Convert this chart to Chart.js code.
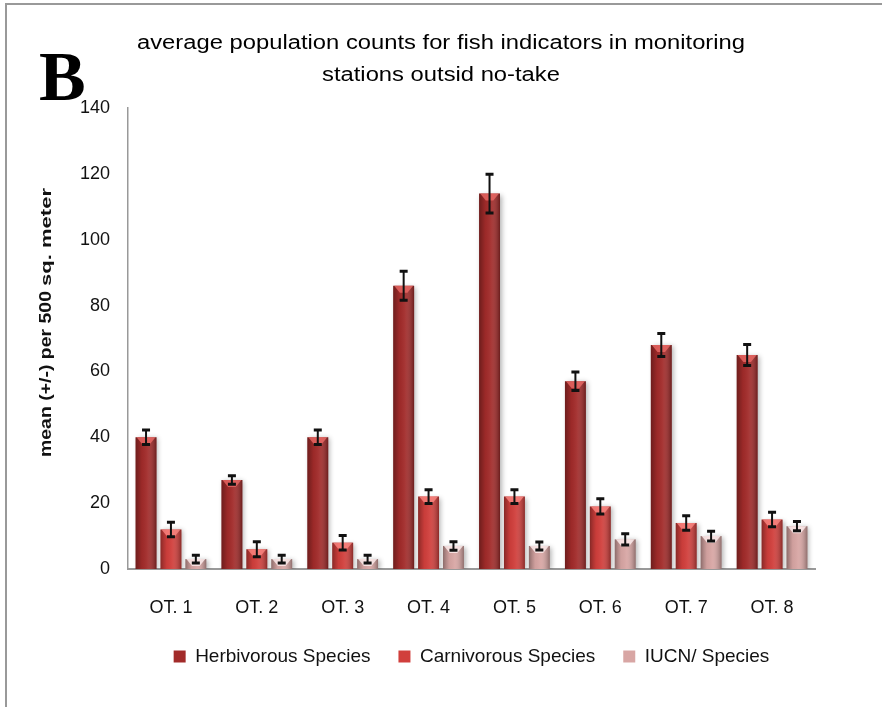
<!DOCTYPE html>
<html>
<head>
<meta charset="utf-8">
<script src="https://cdn.jsdelivr.net/npm/chart.js@4.4.1/dist/chart.umd.min.js"></script>
<style>
  html, body { margin: 0; padding: 0; background: #fff; }
  #wrap { position: relative; width: 882px; height: 707px; }
</style>
</head>
<body>
<div id="wrap"><canvas id="fishChart" width="882" height="707"></canvas></div>
<script>
const stations = ['OT. 1', 'OT. 2', 'OT. 3', 'OT. 4', 'OT. 5', 'OT. 6', 'OT. 7', 'OT. 8'];

const herbivorous = [40, 27, 40, 86, 114, 57, 68, 65];
const carnivorous = [12, 6, 8, 22, 22, 19, 14, 15];
const iucn = [3, 3, 3, 7, 7, 9, 10, 13];

// +/- error for each bar
const herbivorousErr = [2.2, 1.3, 2.2, 4.4, 5.9, 2.8, 3.5, 3.2];
const carnivorousErr = [2.2, 2.3, 2.2, 2.1, 2.1, 2.3, 2.2, 2.2];
const iucnErr = [1.2, 1.2, 1.2, 1.3, 1.2, 1.7, 1.5, 1.4];

const yTicks = [0, 20, 40, 60, 80, 100, 120, 140];

const chartTitle = ['average population counts for fish indicators in monitoring', 'stations outsid no-take'];
const yTitleMain = 'mean (+/-) per 500';
const yTitleUnit = 'sq. meter';
const panelLetter = 'B';

const errors = [herbivorousErr, carnivorousErr, iucnErr];
const topTint = ['rgba(240,110,105,0.75)', 'rgba(255,140,135,0.75)', 'rgba(255,240,240,0.8)'];

Chart.defaults.font.family = '"Liberation Sans", Arial, sans-serif';
Chart.defaults.color = '#111';

// frame, panel letter, title and y title (the original font is a wide Calibri, so text is stretched a bit)
const decor = {
  id: 'decor',
  beforeDraw(chart) {
    const c = chart.ctx;
    c.save();
    c.strokeStyle = '#999';
    c.lineWidth = 2;
    c.beginPath();
    c.moveTo(6, 707);
    c.lineTo(6, 4);
    c.lineTo(882, 4);
    c.stroke();
    c.restore();
  },
  afterDraw(chart) {
    const c = chart.ctx;
    c.save();
    c.fillStyle = '#000';
    c.font = 'bold 70px "Liberation Serif", serif';
    c.textBaseline = 'alphabetic';
    c.fillText(panelLetter, 39, 100);

    // title
    c.font = '20px "Liberation Sans", Arial, sans-serif';
    c.textBaseline = 'middle';
    c.textAlign = 'center';
    const sx = 608 / c.measureText(chartTitle[0]).width;
    chartTitle.forEach((line, i) => {
      c.save();
      c.translate(441, 43 + i * 32);
      c.scale(sx, 1);
      c.fillText(line, 0, 0);
      c.restore();
    });
    c.restore();

    // y axis title
    c.save();
    c.translate(46, 457);
    c.rotate(-Math.PI / 2);
    c.textBaseline = 'middle';
    c.textAlign = 'left';
    c.fillStyle = '#111';
    c.font = 'bold 17px "Liberation Sans", Arial, sans-serif';
    const w1 = c.measureText(yTitleMain).width;
    c.save();
    c.scale(166 / w1, 1);
    c.fillText(yTitleMain, 0, 0);
    c.restore();
    c.font = 'bold 14px "Liberation Sans", Arial, sans-serif';
    const w2 = c.measureText(yTitleUnit).width;
    c.translate(171, 1);
    c.scale(98 / w2, 1);
    c.fillText(yTitleUnit, 0, 0);
    c.restore();
  }
};

// 3d-ish shading on the bars and the error bars
const barShade = {
  id: 'barShade',
  beforeDatasetsDraw(chart) {
    const c = chart.ctx;
    c.save();
    c.shadowColor = 'rgba(0,0,0,0.3)';
    c.shadowBlur = 5;
    c.shadowOffsetX = 2;
    c.shadowOffsetY = 1;
  },
  afterDatasetsDraw(chart) {
    const c = chart.ctx;
    c.restore();
    const yScale = chart.scales.y;
    chart.data.datasets.forEach((ds, i) => {
      const meta = chart.getDatasetMeta(i);
      meta.data.forEach((bar, j) => {
        const { x, y, base, width } = bar.getProps(['x', 'y', 'base', 'width'], true);
        const l = x - width / 2;
        const g = c.createLinearGradient(l, 0, l + width, 0);
        g.addColorStop(0, 'rgba(0,0,0,0.32)');
        g.addColorStop(0.3, 'rgba(0,0,0,0.04)');
        g.addColorStop(0.55, 'rgba(255,255,255,0.05)');
        g.addColorStop(1, 'rgba(0,0,0,0.34)');
        c.fillStyle = g;
        c.fillRect(l, y, width, base - y);

        c.fillStyle = topTint[i];
        c.beginPath();
        c.moveTo(l + 1, y);
        c.lineTo(l + width - 1, y);
        c.lineTo(l + width * 0.68, y + 7);
        c.lineTo(l + width * 0.32, y + 7);
        c.closePath();
        c.fill();

        const v = ds.data[j];
        const e = errors[i][j];
        const yHi = yScale.getPixelForValue(v + e);
        const yLo = yScale.getPixelForValue(v - e);
        c.strokeStyle = '#111';
        c.lineWidth = 2;
        c.beginPath();
        c.moveTo(x, yHi);
        c.lineTo(x, yLo);
        c.stroke();
        c.lineWidth = 3;
        c.beginPath();
        c.moveTo(x - 4, yHi);
        c.lineTo(x + 4, yHi);
        c.moveTo(x - 4, yLo);
        c.lineTo(x + 4, yLo);
        c.stroke();
      });
    });
  }
};

new Chart(document.getElementById('fishChart'), {
  type: 'bar',
  data: {
    labels: stations,
    datasets: [
      { label: 'Herbivorous Species', data: herbivorous, backgroundColor: '#a22b2a' },
      { label: 'Carnivorous Species', data: carnivorous, backgroundColor: '#d13f3c' },
      { label: 'IUCN/ Species', data: iucn, backgroundColor: '#d8a6a4' }
    ]
  },
  options: {
    responsive: false,
    animation: false,
    categoryPercentage: 0.87,
    barPercentage: 0.84,
    layout: { padding: { left: 0, right: 67, top: 108, bottom: 31 } },
    plugins: {
      title: { display: false },
      legend: {
        position: 'bottom',
        fullSize: false,
        labels: {
          boxWidth: 12,
          boxHeight: 12,
          padding: 28,
          color: '#111',
          font: { size: 19 }
        }
      },
      tooltip: { enabled: false }
    },
    scales: {
      x: {
        grid: { display: false, drawTicks: false },
        border: { color: '#999', width: 2 },
        ticks: { padding: 28, font: { size: 18 }, color: '#111' },
        afterFit(s) { s.height = 50; }
      },
      y: {
        min: 0,
        max: 140,
        grid: { display: false, drawTicks: false },
        border: { color: '#999', width: 1.5 },
        afterBuildTicks(s) { s.ticks = yTicks.map(v => ({ value: v })); },
        ticks: { padding: 18, font: { size: 18 }, color: '#111' },
        afterFit(s) { s.width = 128; }
      }
    }
  },
  plugins: [decor, barShade]
});
</script>
</body>
</html>
